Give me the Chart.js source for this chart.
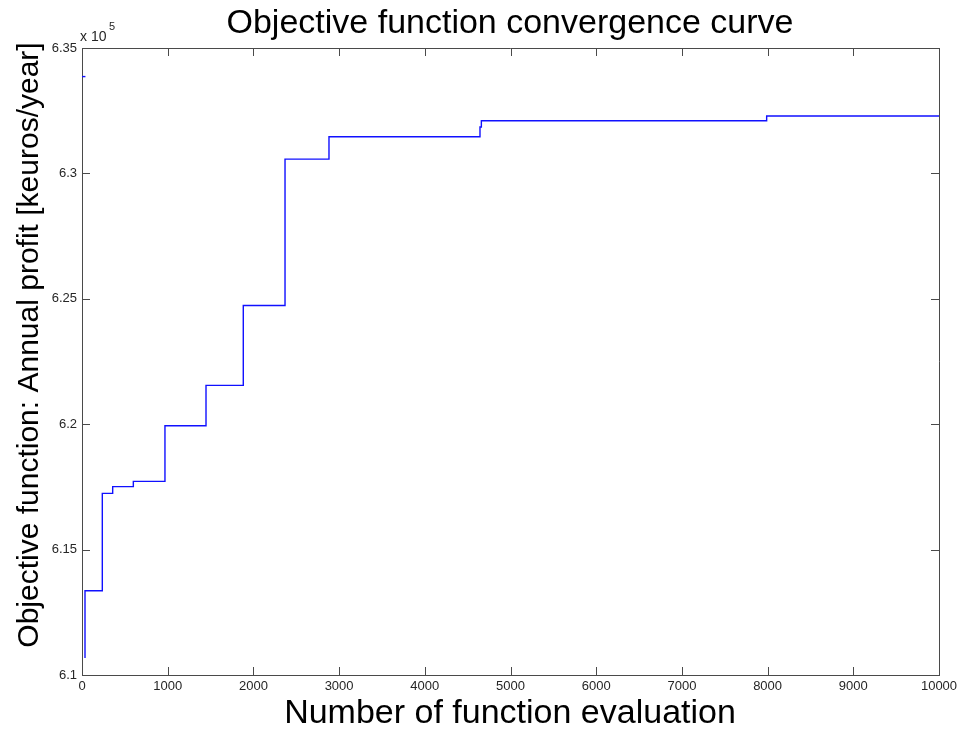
<!DOCTYPE html>
<html>
<head>
<meta charset="utf-8">
<title>Objective function convergence curve</title>
<script src="https://cdn.jsdelivr.net/npm/chart.js@4.4.1/dist/chart.umd.min.js"></script>
<style>
    html, body { margin: 0; padding: 0; background: #fff; }
    #wrap { width: 958px; height: 731px; position: relative; }
</style>
</head>
<body>
<div id="wrap"><canvas id="convChart"></canvas></div>
<script>
// best objective value found so far, as stairs (x = evaluation where each level starts)
const evalSteps = [35, 35, 237, 358, 599, 968, 1447, 1882, 2369, 2882, 4644, 4660, 7989, 10000];
const profitSteps = [610680, 613360, 617240, 617510, 617720, 619940, 621550, 624730, 630570, 631460, 631850, 632100, 632290, 632290];

// first sample, before the search starts
const initEvals = [0, 40];
const initProfit = [633860, 633860];

const xTicks = [0, 1000, 2000, 3000, 4000, 5000, 6000, 7000, 8000, 9000, 10000];
const yTicks = [610000, 615000, 620000, 625000, 630000, 635000];
const yExponent = 5;

const titleText = 'Objective function convergence curve';
const xLabel = 'Number of function evaluation';
const yLabel = 'Objective function: Annual profit [keuros/year]';

const FONT = '"Liberation Sans", Arial, sans-serif';
const AXIS_COLOR = '#4a4a4a';

const toPoints = (xs, ys) => xs.map((x, i) => ({ x, y: ys[i] }));

// box, inward ticks on all four sides, titles and the exponent marker
const matlabFrame = {
    id: 'matlabFrame',
    afterDraw(chart) {
        const { ctx, chartArea: a, scales } = chart;
        const tick = 8;
        ctx.save();
        ctx.strokeStyle = AXIS_COLOR;
        ctx.lineWidth = 1;
        ctx.beginPath();
        ctx.moveTo(a.left, a.top + 0.5);
        ctx.lineTo(a.right + 0.5, a.top + 0.5);
        ctx.lineTo(a.right + 0.5, a.bottom);
        xTicks.forEach(v => {
            const px = Math.round(scales.x.getPixelForValue(v)) + 0.5;
            ctx.moveTo(px, a.bottom);
            ctx.lineTo(px, a.bottom - tick);
            ctx.moveTo(px, a.top);
            ctx.lineTo(px, a.top + tick);
        });
        yTicks.forEach(v => {
            const py = Math.round(scales.y.getPixelForValue(v)) + 0.5;
            ctx.moveTo(a.left, py);
            ctx.lineTo(a.left + tick, py);
            ctx.moveTo(a.right, py);
            ctx.lineTo(a.right - tick, py);
        });
        ctx.stroke();

        ctx.fillStyle = '#000';
        ctx.textAlign = 'center';
        ctx.textBaseline = 'alphabetic';
        ctx.font = '34px ' + FONT;
        ctx.fillText(titleText, 510, 33);
        ctx.fillText(xLabel, 510, 723);

        ctx.save();
        ctx.translate(38, 345);
        ctx.rotate(-Math.PI / 2);
        ctx.font = '30px ' + FONT;
        ctx.fillText(yLabel, 0, 0);
        ctx.restore();

        ctx.fillStyle = '#262626';
        ctx.textAlign = 'left';
        ctx.font = '14px ' + FONT;
        ctx.fillText('x 10', a.left - 2, a.top - 7);
        ctx.font = '11px ' + FONT;
        ctx.fillText(String(yExponent), a.left + 27, a.top - 18);
        ctx.restore();
    }
};

new Chart(document.getElementById('convChart'), {
    type: 'line',
    data: {
        datasets: [{
            data: toPoints(evalSteps, profitSteps),
            borderColor: '#1010ff',
            borderWidth: 1.4,
            stepped: 'before',
            pointRadius: 0,
            fill: false
        }, {
            data: toPoints(initEvals, initProfit),
            borderColor: '#1010ff',
            borderWidth: 1.4,
            pointRadius: 0,
            fill: false
        }]
    },
    options: {
        responsive: true,
        maintainAspectRatio: false,
        animation: false,
        layout: {
            padding: { left: 0, right: 19, top: 48, bottom: 0 }
        },
        plugins: {
            legend: { display: false },
            tooltip: { enabled: false },
            title: { display: false }
        },
        scales: {
            x: {
                type: 'linear',
                min: 0,
                max: 10000,
                afterBuildTicks: scale => {
                    scale.ticks = xTicks.map(value => ({ value }));
                },
                afterFit: scale => {
                    scale.height = 56;
                    scale.paddingLeft = 0;
                    scale.paddingRight = 0;
                },
                grid: { display: false, drawTicks: false },
                border: { display: true, color: AXIS_COLOR, width: 1 },
                ticks: {
                    color: '#262626',
                    font: { family: FONT, size: 13 },
                    padding: 4,
                    maxRotation: 0,
                    callback: v => String(v)
                }
            },
            y: {
                type: 'linear',
                min: 610000,
                max: 635000,
                afterBuildTicks: scale => {
                    scale.ticks = yTicks.map(value => ({ value }));
                },
                afterFit: scale => {
                    scale.width = 82;
                    scale.paddingTop = 0;
                    scale.paddingBottom = 0;
                },
                grid: { display: false, drawTicks: false },
                border: { display: true, color: AXIS_COLOR, width: 1 },
                ticks: {
                    color: '#262626',
                    font: { family: FONT, size: 13 },
                    padding: 5,
                    callback: v => String(+(v / Math.pow(10, yExponent)).toFixed(2))
                }
            }
        }
    },
    plugins: [matlabFrame]
});
</script>
</body>
</html>
